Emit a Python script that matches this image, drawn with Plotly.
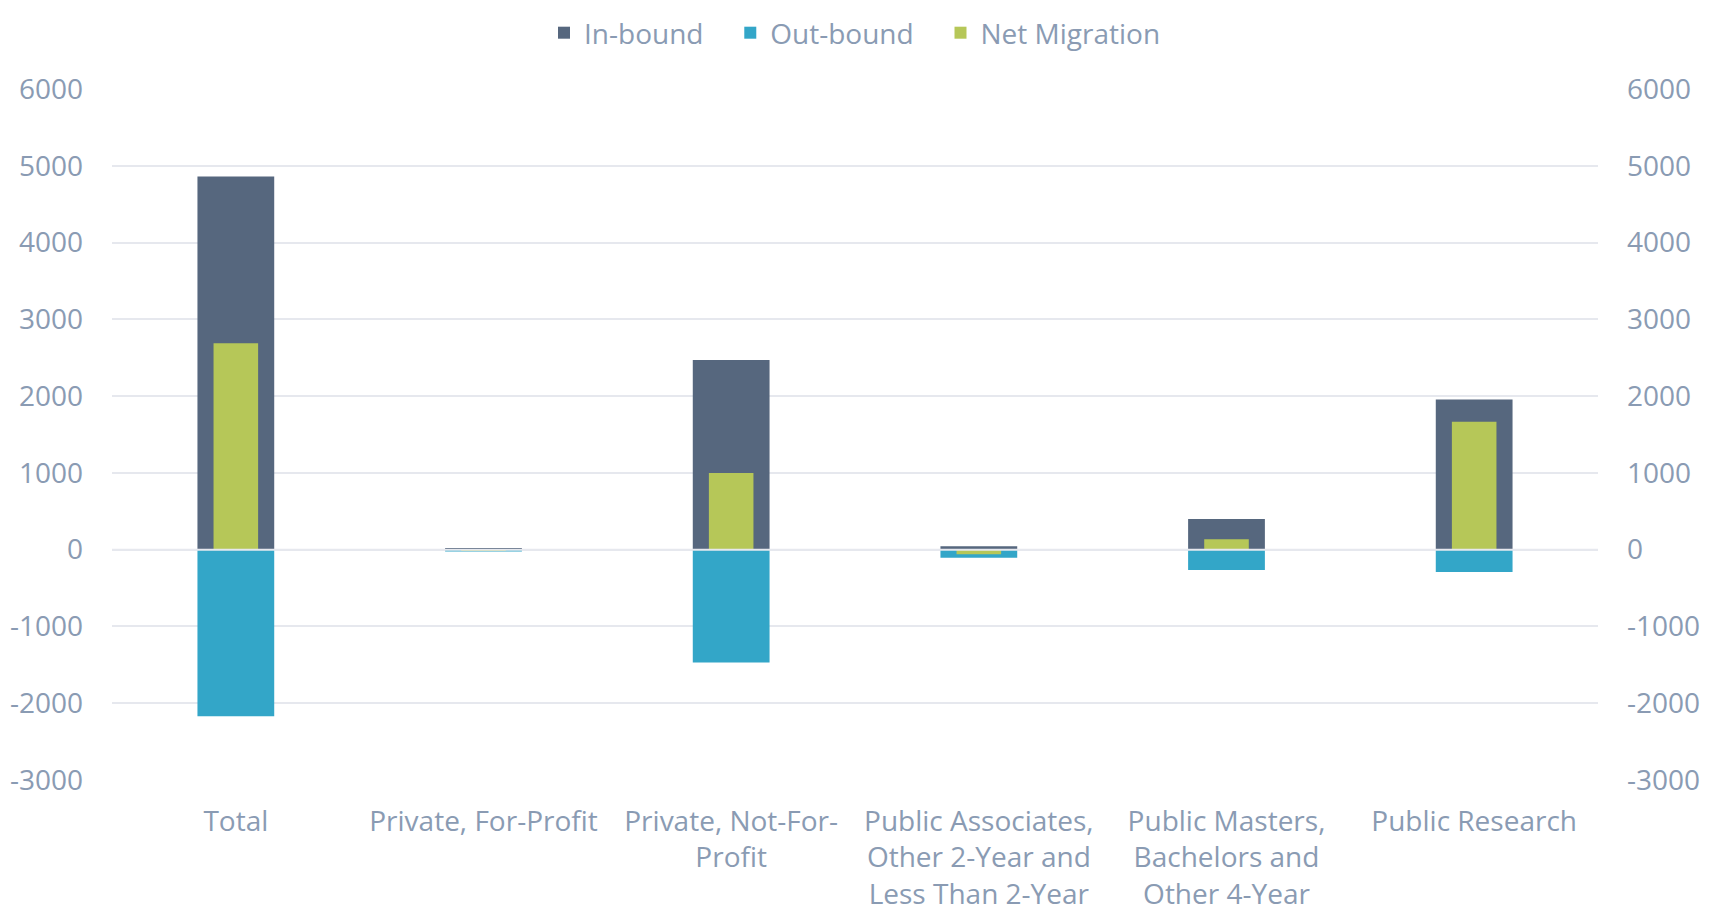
import plotly.graph_objects as go

categories = [
    "Total",
    "Private, For-Profit",
    "Private, Not-For-<br>Profit",
    "Public Associates,<br>Other 2-Year and<br>Less Than 2-Year",
    "Public Masters,<br>Bachelors and<br>Other 4-Year",
    "Public Research",
]
inbound = [4860, 20, 2470, 45, 400, 1955]
outbound = [-2170, -25, -1470, -105, -265, -290]
net_migration = [2690, -5, 1000, -60, 135, 1665]
tick_vals = [-3000, -2000, -1000, 0, 1000, 2000, 3000, 4000, 5000, 6000]
tick_text = ["-3000", "-2000", "-1000", "0", "1000", "2000", "3000", "4000", "5000", "6000"]
series_names = ["In-bound", "Out-bound", "Net Migration"]

C_IN = "#56677e"
C_OUT = "#33a6c8"
C_NET = "#b6c758"
TXT = "#8a9bb3"
GRID = "#e6e8ee"
FONT = "Open Sans"
FS = 28
PAD = "\u00a0\u00a0\u00a0"

fig = go.Figure()
fig.add_trace(go.Bar(name=series_names[0] + PAD, x=categories, y=inbound, marker_color=C_IN,
                     width=0.31, marker_line_width=0))
fig.add_trace(go.Bar(name=series_names[1] + PAD, x=categories, y=outbound, marker_color=C_OUT,
                     width=0.31, marker_line_width=0))
fig.add_trace(go.Bar(name=series_names[2], x=categories, y=net_migration, marker_color=C_NET,
                     width=0.18, marker_line_width=0))
fig.add_trace(go.Scatter(x=categories, y=inbound, yaxis="y2", mode="markers",
                         marker=dict(opacity=0), showlegend=False, hoverinfo="skip"))

fig.add_shape(type="line", xref="paper", yref="y", x0=0, x1=1, y0=0, y1=0,
              line=dict(color=GRID, width=2), layer="above")

# page body has an 8px default margin; margins compensate so the plot lands where the reference has it
fig.update_layout(
    width=1719, height=916,
    barmode="overlay",
    paper_bgcolor="white", plot_bgcolor="white",
    font=dict(family=FONT, size=FS, color=TXT),
    margin=dict(l=104, r=129, t=81, b=144, autoexpand=False),
    legend=dict(orientation="h", x=0.5, xanchor="center", y=1.0, yanchor="top",
                yref="container", font=dict(size=FS, color=TXT), traceorder="normal"),
    xaxis=dict(showgrid=False, showline=False, ticks="", tickfont=dict(size=FS, color=TXT),
               tickangle=0, automargin=False, ticklabelstandoff=22),
    yaxis=dict(range=[-3000, 6000], tickvals=tick_vals, ticktext=tick_text, showgrid=True,
               gridcolor=GRID, gridwidth=2, zeroline=False, showline=False, ticks="",
               tickfont=dict(size=FS, color=TXT), ticklabelstandoff=28, automargin=False),
    yaxis2=dict(range=[-3000, 6000], tickvals=tick_vals, ticktext=tick_text, overlaying="y",
                side="right", showgrid=False, zeroline=False, showline=False, ticks="",
                tickfont=dict(size=FS, color=TXT), ticklabelstandoff=28, automargin=False),
)

fig.write_html("out.html")
